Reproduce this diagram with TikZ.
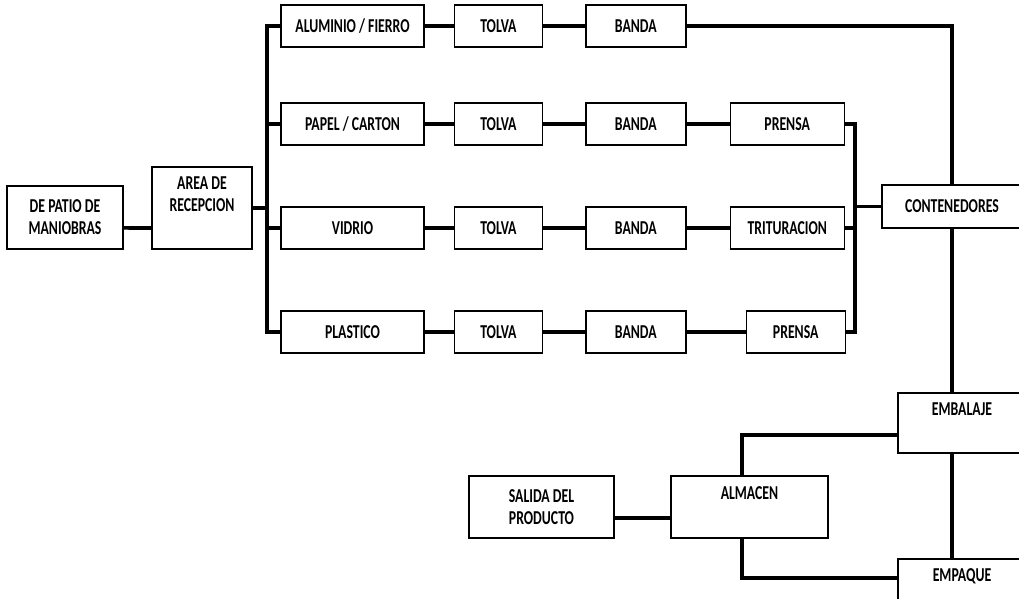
\documentclass[tikz,border=0pt]{standalone}
\usepackage{fontspec}
\setmainfont[FakeStretch=0.7]{Carlito}
\usetikzlibrary{positioning}

\begin{document}
\begin{tikzpicture}[
    node distance=1.05cm,
    box/.style={draw, line width=1pt, minimum height=1.05cm, inner sep=1pt, font=\fontsize{14}{15.5}\selectfont\bfseries, align=center},
    raised/.style={text depth=0.7cm},
    link/.style={line width=2.6pt}
]
\useasboundingbox (0,0) rectangle (25.475,-14.975);
\clip (0,0) rectangle (25.475,-14.975);

\node[box, minimum width=2.9cm, minimum height=1.575cm] (patio) at (1.625,-5.4375) {DE PATIO DE\\MANIOBRAS};
\node[box, raised, minimum width=2.5cm, minimum height=2.05cm] (recep) at (5.05,-5.2) {AREA DE\\RECEPCION};

\node[box, minimum width=3.575cm] (alu) at (8.8125,-0.65) {ALUMINIO / FIERRO};
\node[box, minimum width=2.2cm, right=0.725cm of alu] (tolva1) {TOLVA};
\node[box, minimum width=2.5cm, right=of tolva1] (banda1) {BANDA};

\node[box, minimum width=3.575cm] (papel) at (8.8125,-3.1) {PAPEL / CARTON};
\node[box, minimum width=2.2cm, right=0.725cm of papel] (tolva2) {TOLVA};
\node[box, minimum width=2.5cm, right=of tolva2] (banda2) {BANDA};
\node[box, minimum width=2.85cm, right=1.075cm of banda2] (prensa2) {PRENSA};

\node[box, minimum width=3.575cm] (vidrio) at (8.8125,-5.7) {VIDRIO};
\node[box, minimum width=2.2cm, right=0.725cm of vidrio] (tolva3) {TOLVA};
\node[box, minimum width=2.5cm, right=of tolva3] (banda3) {BANDA};
\node[box, minimum width=2.85cm, right=1.075cm of banda3] (trit) {TRITURACION};

\node[box, minimum width=3.575cm] (plastico) at (8.8125,-8.3) {PLASTICO};
\node[box, minimum width=2.2cm, right=0.725cm of plastico] (tolva4) {TOLVA};
\node[box, minimum width=2.5cm, right=of tolva4] (banda4) {BANDA};
\node[box, minimum width=2.475cm, right=1.475cm of banda4] (prensa4) {PRENSA};

\node[box, minimum width=3.5cm, minimum height=1.075cm] (cont) at (23.8,-5.1625) {CONTENEDORES};
\node[box, raised, minimum width=3.2cm, minimum height=1.5cm] (emb) at (24.05,-10.575) {EMBALAJE};
\node[box, raised, minimum width=3.2cm, minimum height=1.5cm] (emp) at (24.05,-14.725) {EMPAQUE};
\node[box, raised, minimum width=3.925cm, minimum height=1.55cm] (alm) at (18.7375,-12.675) {ALMACEN};
\node[box, minimum width=3.625cm, minimum height=1.55cm] (sal) at (13.5375,-12.675) {SALIDA DEL\\PRODUCTO};

\coordinate (bus) at (6.675,0);
\coordinate (col) at (21.375,0);

\draw[link] ([yshift=-2.6mm]patio.east) -- ([yshift=-5mm]recep.west);
\draw[link] (recep.east) -- (recep.east -| bus);
\draw[link] (alu.west) -| (plastico.west -| bus) -- (plastico.west);
\draw[link] (papel.west) -- (papel.west -| bus);
\draw[link] (vidrio.west) -- (vidrio.west -| bus);

\draw[link] (alu) -- (tolva1);
\draw[link] (tolva1) -- (banda1);
\draw[link] (papel) -- (tolva2);
\draw[link] (tolva2) -- (banda2);
\draw[link] (banda2) -- (prensa2);
\draw[link] (vidrio) -- (tolva3);
\draw[link] (tolva3) -- (banda3);
\draw[link] (banda3) -- (trit);
\draw[link] (plastico) -- (tolva4);
\draw[link] (tolva4) -- (banda4);
\draw[link] (banda4) -- (prensa4);

\draw[link] (prensa2.east) -| (prensa4.east -| col) -- (prensa4.east);
\draw[link] (trit.east) -- (trit.east -| col);
\draw[link] (cont.west -| col) -- (cont.west);
\draw[link] (banda1.east) -| (cont.north);

\draw[link] (cont.south) -- (cont.south |- emb.north);
\draw[link] (cont.south |- emb.south) -- (cont.south |- emp.north);
\draw[link] ([xshift=-1.9mm]alm.north) |- ([yshift=-3mm]emb.west);
\draw[link] ([xshift=-1.9mm]alm.south) |- ([yshift=2.75mm]emp.west);
\draw[link] ([yshift=-2.75mm]sal.east) -- ([yshift=-2.75mm]alm.west);
\end{tikzpicture}
\end{document}
